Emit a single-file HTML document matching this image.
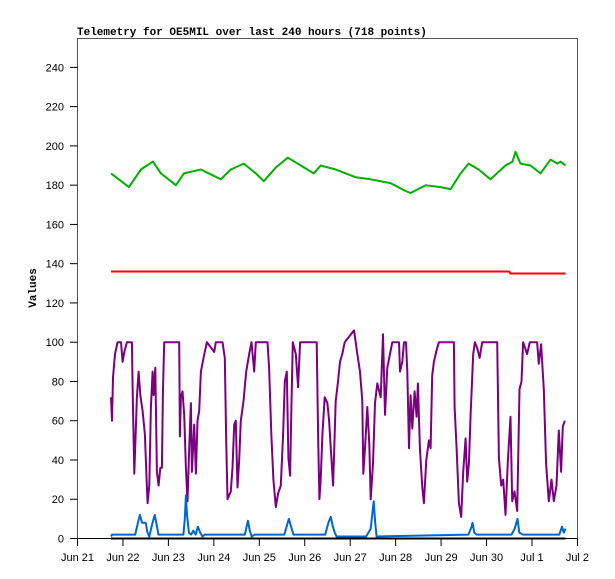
<!DOCTYPE html>
<html><head><meta charset="utf-8"><style>
body{margin:0;background:#fff}
svg{display:block}
.tk{font-family:"Liberation Sans",sans-serif;font-size:11px;fill:#000}
</style></head><body>
<svg id="chart" width="615" height="579" viewBox="0 0 615 579" xmlns="http://www.w3.org/2000/svg">
<rect x="0" y="0" width="615" height="579" fill="#fff"/>
<text x="77" y="35" font-family="Liberation Mono,monospace" font-weight="bold" font-size="11">Telemetry for OE5MIL over last 240 hours (718 points)</text>
<text transform="translate(36,288) rotate(-90)" text-anchor="middle" font-family="Liberation Mono,monospace" font-weight="bold" font-size="11">Values</text>
<rect x="77.5" y="38.5" width="500" height="500" fill="none" stroke="#555" stroke-width="1"/>
<g id="axes"></g>
<g id="series"></g>
</svg>
<script>
const xTickLabels=["Jun 21","Jun 22","Jun 23","Jun 24","Jun 25","Jun 26","Jun 27","Jun 28","Jun 29","Jun 30","Jul 1","Jul 2"];
const yTicks=[0,20,40,60,80,100,120,140,160,180,200,220,240];
const greenT=[0.736,1.132,1.396,1.659,1.835,2.165,2.341,2.714,3.154,3.374,3.659,3.923,4.099,4.363,4.626,4.912,5.198,5.352,5.681,6.121,6.451,6.890,7.220,7.330,7.659,7.989,8.209,8.429,8.604,8.824,9.088,9.418,9.571,9.637,9.747,9.967,10.187,10.407,10.560,10.626,10.736];
const greenV=[186,179,188,192,186,180,186,188,183,188,191,186,182,189,194,190,186,190,188,184,183,181,177,176,180,179,178,186,191,188,183,190,192,197,191,190,186,193,191,192,190];
const redT=[0.736,9.5,9.52,10.736];
const redV=[136,136,135,135];
const blackT=[0.736,10.736];
const blackV=[0,0];
const purpleT=[0.736,0.758,0.780,0.824,0.883,0.956,0.993,1.029,1.088,1.198,1.212,1.249,1.271,1.308,1.344,1.381,1.432,1.484,1.520,1.542,1.579,1.615,1.652,1.674,1.711,1.747,1.784,1.821,1.857,1.879,1.908,2.238,2.253,2.275,2.311,2.348,2.385,2.421,2.458,2.495,2.516,2.568,2.604,2.641,2.678,2.714,2.773,2.846,3.007,3.044,3.19,3.242,3.271,3.30,3.374,3.41,3.447,3.484,3.52,3.557,3.594,3.652,3.711,3.777,3.828,3.887,3.923,4.18,4.216,4.267,4.311,4.363,4.414,4.473,4.524,4.561,4.605,4.641,4.678,4.707,4.736,4.802,4.854,4.897,5.264,5.293,5.322,5.352,5.388,5.44,5.498,5.535,5.586,5.623,5.681,5.732,5.776,5.827,5.879,6.084,6.12,6.157,6.216,6.267,6.289,6.326,6.377,6.421,6.45,6.501,6.545,6.597,6.67,6.721,6.765,6.816,6.875,6.926,7.073,7.095,7.146,7.183,7.227,7.256,7.293,7.329,7.366,7.417,7.461,7.49,7.534,7.586,7.622,7.674,7.732,7.769,7.805,7.842,7.901,7.952,8.282,8.296,8.34,8.391,8.443,8.487,8.538,8.575,8.611,8.648,8.707,8.743,8.794,8.846,8.904,9.234,9.271,9.322,9.366,9.417,9.469,9.527,9.564,9.615,9.674,9.725,9.769,9.805,9.893,9.952,10.113,10.15,10.201,10.26,10.311,10.37,10.428,10.48,10.538,10.589,10.64,10.677,10.721];
const purpleV=[72,60,82,94,100,100,90,95,100,100,77,33,48,72,85,73,65,53,30,18,27,67,85,73,87,34,27,36,36,74,100,100,52,72,75,63,36,19,46,69,34,58,33,60,65,85,92,100,95,100,100,92,50,20,24,36,58,60,26,40,60,70,85,94,100,85,100,100,87,52,30,16,23,27,53,80,85,41,32,67,100,94,77,100,100,53,20,30,53,72,69,60,41,27,70,80,90,94,100,106,100,94,85,70,33,46,67,48,20,38,69,79,72,104,63,87,94,100,100,85,90,100,100,85,46,73,56,75,62,79,46,26,18,40,50,46,83,90,96,100,100,67,46,18,11,34,51,29,38,63,94,100,97,92,100,100,41,27,30,12,40,62,19,24,14,76,80,100,94,100,100,89,99,76,38,19,30,19,27,55,34,57,60];
const blueT=[0.736,0.76,1.27,1.33,1.374,1.42,1.50,1.54,1.58,1.65,1.70,1.75,1.78,2.33,2.36,2.385,2.41,2.45,2.50,2.55,2.60,2.65,2.70,2.75,2.80,3.68,3.72,3.75,3.79,3.83,3.90,4.55,4.60,4.65,4.70,4.75,5.45,5.52,5.57,5.62,5.66,5.70,6.35,6.45,6.516,6.55,6.58,8.60,8.67,8.69,8.73,8.78,9.55,9.62,9.68,9.72,9.80,10.60,10.66,10.70,10.736];
const blueV=[1,2,2,8,12,8,8,3,1,8,12,6,2,2,10,22,12,3,2,4,2,6,3,1,2,2,6,9,4,1,2,2,6,10,6,2,2,8,11,6,3,1,1,5,19,8,1,2,6,8,3,2,2,5,10,3,2,2,6,3,5];

const X0=77.5,DAY=45.45,Y0=538.5,PX=1.963;
const xs=d=>X0+d*DAY, ys=v=>Y0-v*PX;
const NS="http://www.w3.org/2000/svg";
const axes=document.getElementById('axes'), series=document.getElementById('series');
function mk(tag,attrs,parent){const e=document.createElementNS(NS,tag);for(const k in attrs)e.setAttribute(k,attrs[k]);parent.appendChild(e);return e;}
yTicks.forEach(v=>{
  const l=mk('line',{x1:70,x2:77.5,y1:ys(v),y2:ys(v),stroke:'#000'},axes);
  
  
  const t=mk('text',{x:64,y:ys(v)+4,'text-anchor':'end',class:'tk'},axes);
  
  
  t.textContent=v;
});
xTickLabels.forEach((s,i)=>{
  const l=mk('line',{x1:xs(i),x2:xs(i),y1:538.5,y2:546,stroke:'#000'},axes);
  
  
  const t=mk('text',{x:xs(i),y:561,'text-anchor':'middle',class:'tk'},axes);
  
  
  t.textContent=s;
});
const xa=mk('line',{x1:X0,x2:xs(11),y1:538.5,y2:538.5,stroke:'#000'},axes);


function line(T,V,color,name){
  const p=mk('polyline',{points:T.map((t,i)=>xs(t).toFixed(1)+','+ys(V[i]).toFixed(1)).join(' '),fill:'none',stroke:color,'stroke-width':2,'stroke-linejoin':'round'},series);
  
  
}
line(greenT,greenV,'#00b000','series-green');
line(redT,redV,'#ff0000','series-red');
line(purpleT,purpleV,'#7a0080','series-purple');
line(blackT,blackV,'#000000','series-black');
line(blueT,blueV,'#0066cc','series-blue');
</script>
</body></html>
